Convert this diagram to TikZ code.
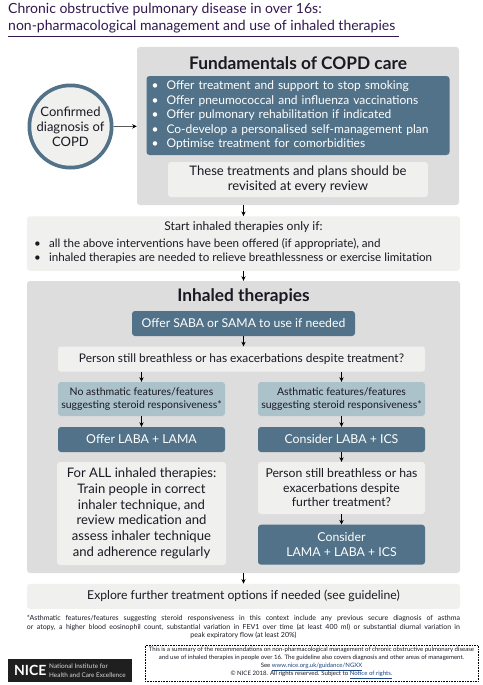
\documentclass[tikz,border=0pt]{standalone}
\usepackage{fontspec}
\setmainfont{Lato}
\usepackage{xcolor}
\usetikzlibrary{arrows.meta,positioning,calc}
\definecolor{titlecol}{RGB}{50,25,80}
\definecolor{panelgrey}{RGB}{221,221,221}
\definecolor{softgrey}{RGB}{240,240,239}
\definecolor{stepblue}{RGB}{81,114,136}
\definecolor{paleblue}{RGB}{172,194,203}
\definecolor{inkcol}{RGB}{25,25,35}
\definecolor{linkcol}{RGB}{30,70,130}
\newcommand{\ptx}[2]{\fontsize{#1}{#2}\selectfont}
\newcommand{\dotitem}{\makebox[15pt][l]{\textbullet}}
\newcommand{\lnk}[1]{\textcolor{linkcol}{\underline{#1}}}
\tikzset{
  panel/.style={draw=none,fill=panelgrey,rounded corners=3pt,inner sep=0pt},
  softbox/.style={draw=none,fill=softgrey,rounded corners=3pt,inner sep=0pt,align=center,text=inkcol},
  bluebox/.style={draw=none,fill=stepblue,rounded corners=3pt,inner sep=0pt,align=center,text=white},
  palebox/.style={draw=none,fill=paleblue,rounded corners=3pt,inner sep=0pt,align=center,text=inkcol},
  flow/.style={-{Stealth[length=1.6mm,width=1.5mm]},draw=black,line width=.6pt},
  heading/.style={inner sep=0pt,font=\ptx{17.3}{20}\bfseries,text=inkcol},
  ghost/.style={draw=none,fill=none,inner sep=0pt},
}
\begin{document}
\begin{tikzpicture}[x=1pt,y=-1pt]
  \useasboundingbox (0,0) rectangle (482,685);
  \fill[white] (0,0) rectangle (482,685);
  % title
  \node[ghost,anchor=west,text=titlecol,font=\ptx{14}{16}] (title1) at (8,10) {Chronic obstructive pulmonary disease in over 16s:};
  \node[ghost,anchor=west,text=titlecol,font=\ptx{14}{16}] (title2) at (8,27) {non-pharmacological management and use of inhaled therapies};
  \coordinate (ruleL) at (8,36.5);
  \coordinate (ruleR) at (399,36.5);
  \draw[titlecol,line width=.6pt] (ruleL) -- (ruleR);
  % fundamentals
  \node[panel,minimum width=322,minimum height=158] (fund) at (298,126) {};
  \node[heading] (fundhead) at (298,63) {Fundamentals of COPD care};
  \node[bluebox,minimum width=303,minimum height=79,inner xsep=5pt,text width=293pt,align=left,font=\ptx{12}{14.5}] (offers) at (298,115.5)
    {\dotitem Offer treatment and support to stop smoking\\
     \dotitem Offer pneumococcal and influenza vaccinations\\
     \dotitem Offer pulmonary rehabilitation if indicated\\
     \dotitem Co-develop a personalised self-management plan\\
     \dotitem Optimise treatment for comorbidities};
  \node[softbox,minimum width=260,minimum height=35,font=\ptx{13.1}{15}] (revisit) at (298,179.5)
    {These treatments and plans should be\\ revisited at every review};
  % diagnosis circle
  \node[circle,fill=stepblue,minimum size=86,inner sep=0pt] (diag) at (70.5,126.5) {};
  \node[circle,fill=paleblue,minimum size=77,inner sep=0pt] (diagmid) at (diag.center) {};
  \node[circle,fill=softgrey,minimum size=69,inner sep=0pt,align=center,text=inkcol,font=\ptx{13}{15}] (diagin) at (diag.center)
    {Confirmed\\ diagnosis of\\ COPD};
  \draw[flow] (diag) -- (fund);
  % start only if
  \node[softbox,minimum width=433,minimum height=54.5] (start) at (243.5,243.5) {};
  \node[ghost,text=inkcol,font=\ptx{12.1}{14}] (starthead) at (243.5,227.5) {Start inhaled therapies only if:};
  \node[ghost,anchor=west,text=inkcol,font=\ptx{11.6}{14},align=left] (startlist) at (34,250.5)
    {\dotitem all the above interventions have been offered (if appropriate), and\\
     \dotitem inhaled therapies are needed to relieve breathlessness or exercise limitation};
  \coordinate (fundgap) at (243.5,205);
  \draw[flow] (fundgap) -- (start);
  % inhaled therapies
  \node[panel,minimum width=433,minimum height=292] (inhaled) at (243.5,427) {};
  \draw[flow] (start) -- (inhaled);
  \node[heading] (inhead) at (243.5,297) {Inhaled therapies};
  \node[bluebox,minimum width=223,minimum height=25,font=\ptx{12.2}{14}] (saba) at (243.5,323.5) {Offer SABA or SAMA to use if needed};
  \node[softbox,minimum width=367,minimum height=25,font=\ptx{11.9}{14}] (still) at (241.5,359) {Person still breathless or has exacerbations despite treatment?};
  \draw[flow] (saba) -- (saba |- still.north);
  % left column
  \node[palebox,minimum width=167,minimum height=34,font=\ptx{10.5}{12.7}] (noasth) at (141.5,399) {No asthmatic features/features\\ suggesting steroid responsiveness*};
  \node[bluebox,minimum width=167,minimum height=25,font=\ptx{12.3}{14}] (offerlaba) at (141.5,439.5) {Offer LABA + LAMA};
  \node[softbox,minimum width=169,minimum height=103,font=\ptx{13.1}{15.7}] (allinh) at (141.5,513.5)
    {For ALL inhaled therapies:\\ Train people in correct\\ inhaler technique, and\\ review medication and\\ assess inhaler technique\\ and adherence regularly};
  % right column
  \node[palebox,minimum width=167,minimum height=34,font=\ptx{10.5}{12.7}] (asth) at (341.5,399) {Asthmatic features/features\\ suggesting steroid responsiveness*};
  \node[bluebox,minimum width=167,minimum height=25,font=\ptx{12.3}{14}] (conslaba) at (341.5,439.5) {Consider LABA + ICS};
  \node[softbox,minimum width=167,minimum height=52,font=\ptx{12.2}{14.5}] (further) at (341.5,488)
    {Person still breathless or has\\ exacerbations despite\\ further treatment?};
  \node[bluebox,minimum width=167,minimum height=40,font=\ptx{12.3}{14.5}] (triple) at (341.5,544.7) {Consider\\ LAMA + LABA + ICS};
  \draw[flow] (still.south -| noasth) -- (noasth);
  \draw[flow] (still.south -| asth) -- (asth);
  \draw[flow] (noasth) -- (offerlaba);
  \draw[flow] (asth) -- (conslaba);
  \draw[flow] (conslaba) -- (further);
  \draw[flow] (further) -- (triple);
  % explore
  \node[softbox,minimum width=433,minimum height=25,font=\ptx{12.2}{14}] (explore) at (243.5,596.3) {Explore further treatment options if needed (see guideline)};
  \draw[flow] (inhaled) -- (explore);
  % footnote
  \node[ghost,align=center,text=inkcol,font=\ptx{7}{8.7}] (footnote) at (243.5,627)
    {\makebox[433pt][s]{*Asthmatic features/features  suggesting steroid responsiveness in this context include any previous secure diagnosis of asthma}\\
     \makebox[433pt][s]{or atopy, a higher blood eosinophil count, substantial variation in FEV1 over time (at least 400 ml) or substantial diurnal variation in}\\
     peak expiratory flow (at least 20\%)};
  % logo
  \node[fill=black!88,minimum width=124,minimum height=23,inner sep=0pt] (logo) at (70,670.5) {};
  \node[ghost,anchor=west,text=white,font=\ptx{14}{14}\bfseries] (nice) at (14,670.5) {NICE};
  \node[ghost,anchor=west,text=white!85!black,font=\ptx{6.4}{8.6},align=left] (nicename) at (49,670.5) {National Institute for\\ Health and Care Excellence};
  % summary
  \node[draw=black,densely dotted,line width=.6pt,minimum width=333,minimum height=36,inner sep=0pt,
        align=center,font=\ptx{6.05}{8},text=inkcol] (summary) at (311.5,663.3)
    {This is a summary of the recommendations on non-pharmacological management of chronic obstructive pulmonary disease\\
     and use of inhaled therapies in people over 16. The guideline also covers diagnosis and other areas of management.\\
     See \lnk{www.nice.org.uk/guidance/NGXX}\\
     © NICE 2018. All rights reserved. Subject to \lnk{Notice of rights.}};
\end{tikzpicture}
\end{document}
